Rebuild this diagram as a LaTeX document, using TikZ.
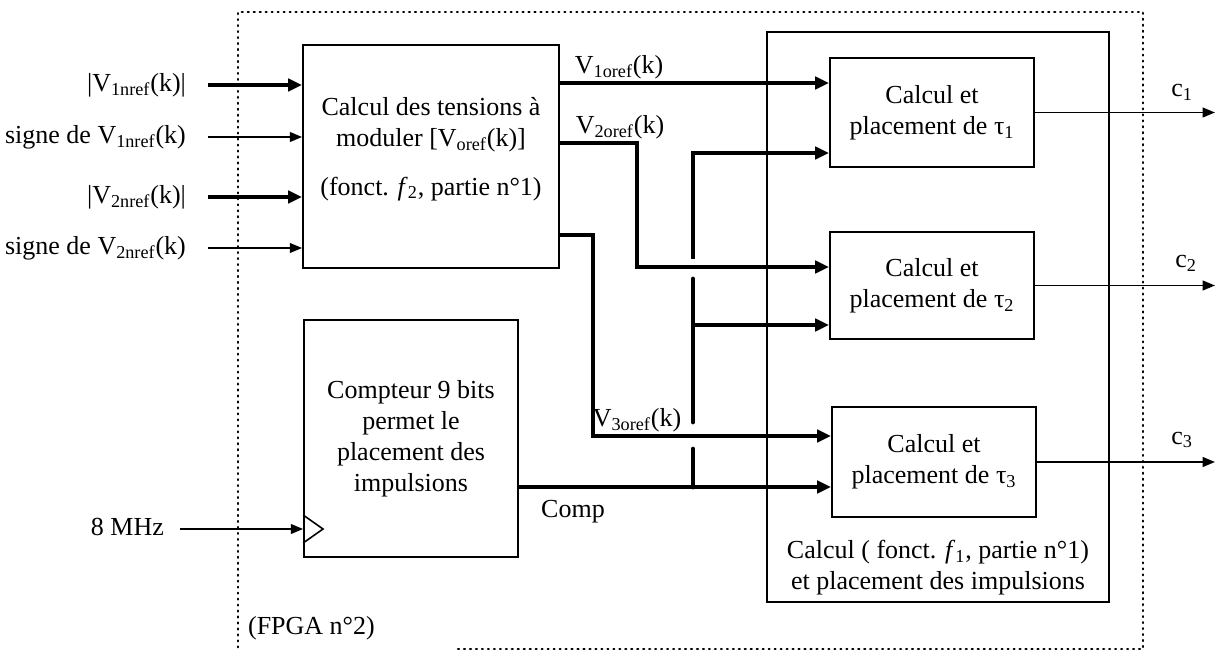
\documentclass[tikz,border=0pt]{standalone}
\usepackage{fontspec}
\setmainfont{Liberation Serif}
\usetikzlibrary{
    arrows.meta,
    positioning,
    calc
}
\tikzset{
  blk/.style    = {draw, line width=1pt, align=center, inner sep=0pt},
  lbl/.style    = {inner sep=1pt, align=center},
  bus/.style    = {line width=2.7pt, line cap=round},
  busarr/.style = {-{Triangle[length=8pt,width=7pt]}, line width=2.7pt},
  sig/.style    = {-{Triangle[length=7pt,width=5.5pt]}, line width=1.1pt},
  fpga/.style   = {line width=1.2pt, dash pattern=on 0.6pt off 2.8pt, line cap=round}
}

\begin{document}
\begin{tikzpicture}[x=0.02cm, y=-0.02cm, font=\fontsize{14.8}{17.6}\selectfont]
    \useasboundingbox (0,0) rectangle (1217,652);

    % FPGA boundary
    \draw[fpga] (458,649) -- (1143,649) -- (1143,12) -- (238,12) -- (238,652);
    \node[lbl, anchor=west] (fpgatxt) at (246,628) {(FPGA n°2)};

    % blocks
    \node[blk, minimum width=5.12cm, minimum height=4.46cm] (calc) at (431,156.5)
      {Calcul des tensions à\\moduler [V\textsubscript{oref}(k)]\\[10pt](fonct. \textit{f}\textsubscript{2}, partie n°1)\\[-6pt]\mbox{}};
    \node[blk, minimum width=4.28cm, minimum height=4.74cm] (cpt) at (411,438.5)
      {Compteur 9 bits\\permet le\\placement des\\impulsions};
    \node[blk, minimum width=6.84cm, minimum height=11.4cm] (calcf1) at (938,317) {};
    \node[lbl] (calcf1txt) at (938,568)
      {Calcul ( fonct. \textit{f}\textsubscript{1}, partie n°1)\\et placement des impulsions};
    \node[blk, minimum width=4.08cm, minimum height=2.18cm] (t1) at (932,112.5)
      {Calcul et\\placement de τ\textsubscript{1}};
    \node[blk, minimum width=4.08cm, minimum height=2.14cm] (t2) at (932,285.5)
      {Calcul et\\placement de τ\textsubscript{2}};
    \node[blk, minimum width=4.08cm, minimum height=2.2cm] (t3) at (934,462)
      {Calcul et\\placement de τ\textsubscript{3}};

    % clock input
    \draw[line width=0.9pt] (cpt.west |- 0,515) -- (323,529) -- (cpt.west |- 0,543);

    % inputs
    \node[lbl, anchor=east] (inV1)  at (188,85)  {|V\textsubscript{1nref}(k)|};
    \node[lbl, anchor=east] (inS1)  at (188,137) {signe de V\textsubscript{1nref}(k)};
    \node[lbl, anchor=east] (inV2)  at (188,197) {|V\textsubscript{2nref}(k)|};
    \node[lbl, anchor=east] (inS2)  at (188,248) {signe de V\textsubscript{2nref}(k)};
    \node[lbl, anchor=east] (clk)   at (166,527) {8 MHz};

    \draw[busarr] ($(inV1.east)+(20,0)$) -- (calc.west |- inV1.east);
    \draw[sig]    ($(inS1.east)+(20,0)$) -- (calc.west |- inS1.east);
    \draw[busarr] ($(inV2.east)+(20,0)$) -- (calc.west |- inV2.east);
    \draw[sig]    ($(inS2.east)+(20,0)$) -- (calc.west |- inS2.east);
    \draw[sig]    ($(clk.east)+(14,2)$) -- (cpt.west |- 0,529);

    % V_oref buses
    \draw[busarr] (calc.east |- 0,83) -- node[lbl, above, pos=0.22] (lV1) {V\textsubscript{1oref}(k)} (t1.west |- 0,83);
    \draw[busarr] (calc.east |- 0,143) -| (637,267) -- (t2.west |- 0,267);
    \node[lbl] (lV2) at (620,127) {V\textsubscript{2oref}(k)};
    \draw[busarr] (calc.east |- 0,235) -| (593,436) -- (t3.west |- 0,436);
    \node[lbl] (lV3) at (637,420) {V\textsubscript{3oref}(k)};

    % Comp bus
    \draw[busarr] (cpt.east |- 0,487) -- (t3.west |- 0,487);
    \node[lbl] (lcomp) at (573,512) {Comp};
    \coordinate (jct) at (693,487);
    \draw[bus] (jct) -- (693,449);
    \draw[bus] (693,422) -- (693,279);
    \draw[busarr] (693,259) |- (t1.west |- 0,153);
    \draw[busarr] (693,325) -- (t2.west |- 0,325);

    % outputs
    \coordinate (c1end) at (1215,112.5);
    \coordinate (c2end) at (1215,285.5);
    \coordinate (c3end) at (1215,462);
    \draw[sig] (t1.east) -- (c1end);
    \draw[sig] (t2.east) -- (c2end);
    \draw[sig] (t3.east) -- (c3end);
    \node[lbl] (lc1) at (1182,92)  {c\textsubscript{1}};
    \node[lbl] (lc2) at (1186,263) {c\textsubscript{2}};
    \node[lbl] (lc3) at (1182,440) {c\textsubscript{3}};
\end{tikzpicture}
\end{document}
